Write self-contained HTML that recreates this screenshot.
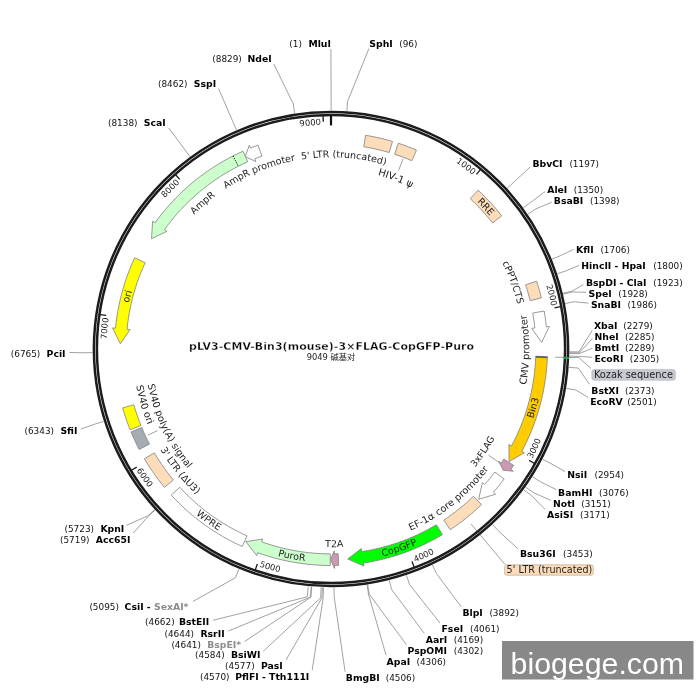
<!DOCTYPE html>
<html lang="zh"><head><meta charset="utf-8"><title>pLV3-CMV-Bin3(mouse)-3×FLAG-CopGFP-Puro</title><style>
html,body{margin:0;padding:0;background:#fff;}
body{width:700px;height:700px;overflow:hidden;}
svg{display:block;}
text{font-family:"DejaVu Sans","Liberation Sans",sans-serif;fill:#000;}
.en{font-weight:bold;font-size:9.3px;}
.en.g{fill:#8c8c8c;}
.nu{font-size:8.9px;fill:#111;}
.fl{fill:#222;}
.tk{fill:#222;}
.ti{font-weight:bold;font-size:10.9px;fill:#000;stroke:#fff;stroke-width:0.3px;}
.st{font-size:8.3px;font-family:"DejaVu Sans","Noto Sans CJK SC",sans-serif;fill:#222;}
.wm{font-family:"Liberation Sans",sans-serif;font-size:30.3px;fill:#fff;}
</style></head><body>
<svg width="700" height="700" viewBox="0 0 700 700">
<rect width="700" height="700" fill="#fff"/>
<text x="369.3" y="46.55" class="en">SphI</text>
<text x="399.2" y="46.55" class="nu">(96)</text>
<polyline points="346.89,111.03 347.52,101.55 368.9,48.6" fill="none" stroke="#8a8a8a" stroke-width="0.8"/>
<text x="532.4" y="167.05" class="en">BbvCI</text>
<text x="569.4" y="167.05" class="nu">(1197)</text>
<polyline points="507.18,188.24 514.2,181.84 530,167.1" fill="none" stroke="#8a8a8a" stroke-width="0.8"/>
<text x="547.2" y="193.35" class="en">AleI</text>
<text x="573.7" y="193.35" class="nu">(1350)</text>
<polyline points="523.23,207.83 530.89,202.21 545.2,191.5" fill="none" stroke="#8a8a8a" stroke-width="0.8"/>
<text x="553.8" y="203.85" class="en">BsaBI</text>
<text x="590" y="203.85" class="nu">(1398)</text>
<polyline points="527.83,214.31 535.67,208.95 551.8,202.2" fill="none" stroke="#8a8a8a" stroke-width="0.8"/>
<text x="576.1" y="252.65" class="en">KflI</text>
<text x="600.4" y="252.65" class="nu">(1706)</text>
<polyline points="551.93,259.16 560.73,255.58 573.6,249.4" fill="none" stroke="#8a8a8a" stroke-width="0.8"/>
<text x="581.3" y="268.65" class="en">HincII - HpaI</text>
<text x="653.2" y="268.65" class="nu">(1800)</text>
<polyline points="557.32,273.76 566.34,270.76 578.9,265.4" fill="none" stroke="#8a8a8a" stroke-width="0.8"/>
<text x="585.9" y="286.25" class="en">BspDI - ClaI</text>
<text x="653.2" y="286.25" class="nu">(1923)</text>
<polyline points="562.91,293.34 572.15,291.12 583.4,284.6" fill="none" stroke="#8a8a8a" stroke-width="0.8"/>
<text x="588.6" y="297.15" class="en">SpeI</text>
<text x="618.3" y="297.15" class="nu">(1928)</text>
<polyline points="563.11,294.14 572.35,291.96 586,292.3" fill="none" stroke="#8a8a8a" stroke-width="0.8"/>
<text x="590.9" y="307.75" class="en">SnaBI</text>
<text x="627.4" y="307.75" class="nu">(1986)</text>
<polyline points="565.13,303.53 574.45,301.72 588.5,303.2" fill="none" stroke="#8a8a8a" stroke-width="0.8"/>
<text x="593.9" y="329.35" class="en">XbaI</text>
<text x="623.3" y="329.35" class="nu">(2279)</text>
<polyline points="569.48,351.77 578.98,351.88 592.2,330.4" fill="none" stroke="#8a8a8a" stroke-width="0.8"/>
<text x="594.5" y="340.05" class="en">NheI</text>
<text x="625" y="340.05" class="nu">(2285)</text>
<polyline points="569.47,352.77 578.97,352.92 592.5,338.5" fill="none" stroke="#8a8a8a" stroke-width="0.8"/>
<text x="594.5" y="350.75" class="en">BmtI</text>
<text x="625" y="350.75" class="nu">(2289)</text>
<polyline points="569.46,353.43 578.96,353.61 592.3,348.3" fill="none" stroke="#8a8a8a" stroke-width="0.8"/>
<text x="594.5" y="361.85" class="en">EcoRI</text>
<text x="629.8" y="361.85" class="nu">(2305)</text>
<polyline points="569.39,356.08 578.89,356.36 592.3,357.3" fill="none" stroke="#8a8a8a" stroke-width="0.8"/>
<text x="591.3" y="394.05" class="en">BstXI</text>
<text x="625" y="394.05" class="nu">(2373)</text>
<polyline points="568.8,367.32 578.27,368.05 589.5,384.3" fill="none" stroke="#8a8a8a" stroke-width="0.8"/>
<text x="590.2" y="404.75" class="en">EcoRV</text>
<text x="627.2" y="404.75" class="nu">(2501)</text>
<polyline points="566.23,388.36 575.6,389.92 588.1,397.3" fill="none" stroke="#8a8a8a" stroke-width="0.8"/>
<text x="567.2" y="477.75" class="en">NsiI</text>
<text x="594.5" y="477.75" class="nu">(2954)</text>
<polyline points="542.51,459.2 550.94,463.59 565,471.5" fill="none" stroke="#8a8a8a" stroke-width="0.8"/>
<text x="558.1" y="495.95" class="en">BamHI</text>
<text x="599.1" y="495.95" class="nu">(3076)</text>
<polyline points="532.43,476.7 540.45,481.79 556.3,489.6" fill="none" stroke="#8a8a8a" stroke-width="0.8"/>
<text x="553" y="506.75" class="en">NotI</text>
<text x="581.3" y="506.75" class="nu">(3151)</text>
<polyline points="525.51,487.01 533.26,492.51 550.8,500.4" fill="none" stroke="#8a8a8a" stroke-width="0.8"/>
<text x="547.1" y="517.75" class="en">AsiSI</text>
<text x="580.1" y="517.75" class="nu">(3171)</text>
<polyline points="523.58,489.7 531.25,495.31 545.1,509.4" fill="none" stroke="#8a8a8a" stroke-width="0.8"/>
<text x="520" y="557.25" class="en">Bsu36I</text>
<text x="563.1" y="557.25" class="nu">(3453)</text>
<polyline points="492.52,524.48 498.95,531.47 517.8,548.6" fill="none" stroke="#8a8a8a" stroke-width="0.8"/>
<text x="462.4" y="616.15" class="en">BlpI</text>
<text x="489.4" y="616.15" class="nu">(3892)</text>
<polyline points="432.41,564.87 436.45,573.47 461.2,606.8" fill="none" stroke="#8a8a8a" stroke-width="0.8"/>
<text x="441.5" y="632.45" class="en">FseI</text>
<text x="470" y="632.45" class="nu">(4061)</text>
<polyline points="406.44,575.25 409.44,584.27 440,623.1" fill="none" stroke="#8a8a8a" stroke-width="0.8"/>
<text x="425.8" y="642.75" class="en">AarI</text>
<text x="453.7" y="642.75" class="nu">(4169)</text>
<polyline points="389.28,580.27 391.6,589.48 424.3,633.4" fill="none" stroke="#8a8a8a" stroke-width="0.8"/>
<text x="407.5" y="653.85" class="en">PspOMI</text>
<text x="453.7" y="653.85" class="nu">(4302)</text>
<polyline points="367.7,584.66 369.16,594.05 406.3,644.5" fill="none" stroke="#8a8a8a" stroke-width="0.8"/>
<text x="386.6" y="664.75" class="en">ApaI</text>
<text x="416.5" y="664.75" class="nu">(4306)</text>
<polyline points="367.05,584.76 368.48,594.15 386.1,655.4" fill="none" stroke="#8a8a8a" stroke-width="0.8"/>
<text x="345.8" y="681.05" class="en">BmgBI</text>
<text x="385.7" y="681.05" class="nu">(4506)</text>
<polyline points="334.06,587.48 334.19,596.98 345.1,671.6" fill="none" stroke="#8a8a8a" stroke-width="0.8"/>
<text x="289.3" y="46.55" class="nu">(1)</text>
<text x="308.4" y="46.55" class="en">MluI</text>
<polyline points="331.17,110.5 331.17,109 330.9,49" fill="none" stroke="#8a8a8a" stroke-width="0.8"/>
<text x="212.3" y="62.45" class="nu">(8829)</text>
<text x="247.5" y="62.45" class="en">NdeI</text>
<polyline points="294.71,113.28 293.26,103.89 273.8,64" fill="none" stroke="#8a8a8a" stroke-width="0.8"/>
<text x="158" y="86.75" class="nu">(8462)</text>
<text x="193.8" y="86.75" class="en">SspI</text>
<polyline points="236.46,130.04 232.69,121.32 218.6,88.6" fill="none" stroke="#8a8a8a" stroke-width="0.8"/>
<text x="108" y="126.15" class="nu">(8138)</text>
<text x="143.8" y="126.15" class="en">ScaI</text>
<polyline points="190,156.64 184.38,148.98 168.6,127.9" fill="none" stroke="#8a8a8a" stroke-width="0.8"/>
<text x="10.8" y="357.05" class="nu">(6765)</text>
<text x="46.6" y="357.05" class="en">PciI</text>
<polyline points="92.53,352.6 83.03,352.75 69.5,352.5" fill="none" stroke="#8a8a8a" stroke-width="0.8"/>
<text x="24.5" y="433.85" class="nu">(6343)</text>
<text x="60.4" y="433.85" class="en">SfiI</text>
<polyline points="103.73,421.33 94.68,424.21 80.9,429" fill="none" stroke="#8a8a8a" stroke-width="0.8"/>
<text x="64.5" y="531.85" class="nu">(5723)</text>
<text x="100.4" y="531.85" class="en">KpnI</text>
<polyline points="154.65,509.57 147.63,515.97 126.4,525.3" fill="none" stroke="#8a8a8a" stroke-width="0.8"/>
<text x="60" y="542.85" class="nu">(5719)</text>
<text x="95.8" y="542.85" class="en">Acc65I</text>
<polyline points="155.1,510.06 148.09,516.48 133.3,533" fill="none" stroke="#8a8a8a" stroke-width="0.8"/>
<text x="89.4" y="610.45" class="nu">(5095)</text>
<text x="124.6" y="610.45" class="en">CsiI - <tspan fill="#8c8c8c">SexAI*</tspan></text>
<polyline points="238.98,569.03 235.31,577.8 193,601.4" fill="none" stroke="#8a8a8a" stroke-width="0.8"/>
<text x="145.1" y="625.35" class="nu">(4662)</text>
<text x="178.9" y="625.35" class="en">BstEII</text>
<polyline points="308.26,586.41 307.26,596.87 212.9,620.3" fill="none" stroke="#8a8a8a" stroke-width="0.8"/>
<text x="164.5" y="636.75" class="nu">(4644)</text>
<text x="200.4" y="636.75" class="en">RsrII</text>
<polyline points="311.23,586.68 310.36,597.14 228.4,631" fill="none" stroke="#8a8a8a" stroke-width="0.8"/>
<text x="171.4" y="647.55" class="nu">(4641)</text>
<text x="207.2" y="647.55" class="en" fill="#8c8c8c" style="fill:#8c8c8c">BspEI*</text>
<polyline points="311.73,586.72 310.88,597.19 244.5,641.6" fill="none" stroke="#8a8a8a" stroke-width="0.8"/>
<text x="195.1" y="658.15" class="nu">(4584)</text>
<text x="230.9" y="658.15" class="en">BsiWI</text>
<polyline points="321.15,587.3 320.72,597.79 263.2,651.3" fill="none" stroke="#8a8a8a" stroke-width="0.8"/>
<text x="225.1" y="669.05" class="nu">(4577)</text>
<text x="260.9" y="669.05" class="en">PasI</text>
<polyline points="322.31,587.34 321.93,597.83 286,660" fill="none" stroke="#8a8a8a" stroke-width="0.8"/>
<text x="200" y="679.55" class="nu">(4570)</text>
<text x="235.2" y="679.55" class="en">PflFI - Tth111I</text>
<polyline points="323.47,587.38 323.13,597.88 312.2,670.3" fill="none" stroke="#8a8a8a" stroke-width="0.8"/>
<line x1="471.1" y1="524.1" x2="505" y2="564.5" stroke="#8a8a8a" stroke-width="0.8"/>
<polyline points="555,357.2 578.9,357.6 591,368.5" fill="none" stroke="#8a8a8a" stroke-width="0.8"/>
<circle cx="331" cy="349" r="237.1" fill="none" stroke="#1c1c1c" stroke-width="2.5"/>
<circle cx="331" cy="349" r="234.1" fill="none" stroke="#1c1c1c" stroke-width="2.5"/>
<path d="M567.97 356.86 A237.1 237.1 0 0 1 567.89 359" fill="none" stroke="#18a03c" stroke-width="2.5"/>
<path d="M564.97 356.76 A234.1 234.1 0 0 1 564.89 358.87" fill="none" stroke="#18a03c" stroke-width="2.5"/>
<line x1="480.41" y1="169.56" x2="476.45" y2="174.33" stroke="#1a1a1a" stroke-width="1.3"/>
<path id="p1" d="M317.25 124.89 A224.53 224.53 0 0 1 549.32 296.54" fill="none"/>
<text class="tk" font-size="8.4"><textPath href="#p1" startOffset="50%" text-anchor="middle">1000</textPath></text>
<line x1="560.64" y1="306.72" x2="554.54" y2="307.84" stroke="#1a1a1a" stroke-width="1.3"/>
<path id="p2" d="M463.84 167.98 A224.53 224.53 0 0 1 532.34 448.39" fill="none"/>
<text class="tk" font-size="8.4"><textPath href="#p2" startOffset="50%" text-anchor="middle">2000</textPath></text>
<line x1="534.53" y1="463.45" x2="529.12" y2="460.41" stroke="#1a1a1a" stroke-width="1.3"/>
<path id="p3" d="M424.02 558.33 A229.07 229.07 0 0 0 553.3 293.74" fill="none"/>
<text class="tk" font-size="8.4"><textPath href="#p3" startOffset="50%" text-anchor="middle">3000</textPath></text>
<line x1="414.17" y1="567.19" x2="411.96" y2="561.39" stroke="#1a1a1a" stroke-width="1.3"/>
<path id="p4" d="M268.54 569.39 A229.07 229.07 0 0 0 537.19 448.78" fill="none"/>
<text class="tk" font-size="8.4"><textPath href="#p4" startOffset="50%" text-anchor="middle">4000</textPath></text>
<line x1="255.3" y1="569.89" x2="257.31" y2="564.02" stroke="#1a1a1a" stroke-width="1.3"/>
<path id="p5" d="M141.98 478.39 A229.07 229.07 0 0 0 425.6 557.62" fill="none"/>
<text class="tk" font-size="8.4"><textPath href="#p5" startOffset="50%" text-anchor="middle">5000</textPath></text>
<line x1="131.48" y1="470.31" x2="136.78" y2="467.09" stroke="#1a1a1a" stroke-width="1.3"/>
<path id="p6" d="M102.95 327.48 A229.07 229.07 0 0 0 270.21 569.85" fill="none"/>
<text class="tk" font-size="8.4"><textPath href="#p6" startOffset="50%" text-anchor="middle">6000</textPath></text>
<line x1="100.06" y1="314.55" x2="106.19" y2="315.47" stroke="#1a1a1a" stroke-width="1.3"/>
<path id="p7" d="M146.65 477.18 A224.53 224.53 0 0 1 172.76 189.71" fill="none"/>
<text class="tk" font-size="8.4"><textPath href="#p7" startOffset="50%" text-anchor="middle">7000</textPath></text>
<line x1="175.57" y1="174.75" x2="179.7" y2="179.38" stroke="#1a1a1a" stroke-width="1.3"/>
<path id="p8" d="M107.31 329.53 A224.53 224.53 0 0 1 311.33 125.33" fill="none"/>
<text class="tk" font-size="8.4"><textPath href="#p8" startOffset="50%" text-anchor="middle">8000</textPath></text>
<line x1="323.06" y1="115.64" x2="323.27" y2="121.83" stroke="#1a1a1a" stroke-width="1.3"/>
<path id="p9" d="M171.56 190.91 A224.53 224.53 0 0 1 459.01 164.53" fill="none"/>
<text class="tk" font-size="8.4"><textPath href="#p9" startOffset="50%" text-anchor="middle">9000</textPath></text>
<line x1="331" y1="115.5" x2="331" y2="125.4" stroke="#111" stroke-width="2.2"/>
<path d="M365.61 135.28 L371.05 136.24 L376.46 137.33 L381.83 138.55 L387.18 139.92 L392.49 141.42 L389.19 152.54 L384.17 151.12 L379.11 149.83 L374.02 148.67 L368.9 147.64 L363.76 146.74Z" fill="#fddcb9" stroke="#808080" stroke-width="0.8" stroke-linejoin="miter"/>
<path d="M398.26 143.21 L402.87 144.78 L407.44 146.44 L411.97 148.21 L416.46 150.08 L411.88 160.74 L407.63 158.97 L403.34 157.3 L399.02 155.72 L394.66 154.24Z" fill="#fddcb9" stroke="#808080" stroke-width="0.8" stroke-linejoin="miter"/>
<path d="M478.1 190.15 L481.72 193.58 L485.27 197.1 L488.73 200.7 L492.11 204.37 L495.4 208.13 L498.6 211.96 L501.72 215.86 L492.57 222.99 L489.62 219.3 L486.59 215.68 L483.48 212.12 L480.28 208.64 L477 205.24 L473.65 201.91 L470.22 198.66Z" fill="#fddcb9" stroke="#808080" stroke-width="0.8" stroke-linejoin="miter"/>
<path d="M536.61 281.2 L537.93 285.34 L539.17 289.51 L540.32 293.7 L541.39 297.91 L530.11 300.65 L529.1 296.66 L528.01 292.69 L526.84 288.75 L525.59 284.83Z" fill="#fddcb9" stroke="#808080" stroke-width="0.8" stroke-linejoin="miter"/>
<path d="M544.14 311.03 L545.01 316.28 L545.75 321.54 L546.36 326.82 L549.35 326.52 L541.6 342.38 L531.84 328.32 L534.82 328.01 L534.25 323.01 L533.55 318.03 L532.72 313.07Z" fill="#ffffff" stroke="#808080" stroke-width="0.8" stroke-linejoin="miter"/>
<path d="M547.33 357.69 L547.04 363.12 L546.62 368.55 L546.06 373.96 L545.36 379.36 L544.53 384.73 L543.57 390.09 L542.47 395.42 L541.23 400.72 L539.87 405.98 L538.37 411.22 L536.74 416.41 L534.98 421.56 L533.09 426.66 L531.08 431.71 L528.93 436.72 L526.67 441.66 L524.28 446.55 L521.76 451.38 L524.41 452.8 L509.1 461.59 L508.9 444.47 L511.54 445.89 L513.92 441.32 L516.18 436.7 L518.33 432.02 L520.36 427.28 L522.26 422.5 L524.05 417.67 L525.72 412.8 L527.26 407.88 L528.68 402.93 L529.97 397.95 L531.14 392.93 L532.18 387.89 L533.09 382.82 L533.88 377.73 L534.53 372.62 L535.06 367.5 L535.46 362.37 L535.73 357.22Z" fill="#ffcc00" stroke="#808080" stroke-width="0.8" stroke-linejoin="miter"/>
<path d="M513.59 465.33 L510.86 469.52 L513.35 471.19 L503.28 470.3 L498.73 461.39 L501.22 463.06 L503.81 459.09Z" fill="#cc99b2" stroke="#808080" stroke-width="0.8" stroke-linejoin="miter"/>
<path d="M504.13 478.99 L501.53 482.38 L498.87 485.72 L496.14 489 L493.35 492.23 L495.6 494.22 L478.68 499.28 L482.4 482.57 L484.65 484.56 L487.29 481.5 L489.88 478.39 L492.4 475.23 L494.86 472.03Z" fill="#ffffff" stroke="#808080" stroke-width="0.8" stroke-linejoin="miter"/>
<path d="M481.53 504.61 L477.87 508.06 L474.14 511.43 L470.33 514.71 L466.44 517.9 L462.48 521.01 L458.45 524.01 L454.35 526.93 L450.18 529.74 L443.79 520.06 L447.74 517.39 L451.62 514.64 L455.43 511.79 L459.18 508.85 L462.86 505.83 L466.47 502.73 L470 499.54 L473.46 496.27Z" fill="#fddcb9" stroke="#808080" stroke-width="0.8" stroke-linejoin="miter"/>
<path d="M442.41 534.64 L437.55 537.47 L432.61 540.17 L427.61 542.75 L422.54 545.2 L417.41 547.51 L412.22 549.69 L406.98 551.73 L401.68 553.64 L396.34 555.41 L390.95 557.03 L385.52 558.52 L380.06 559.87 L374.56 561.07 L369.04 562.13 L363.48 563.05 L363.93 566.02 L347.71 559.04 L361.29 548.61 L361.74 551.58 L367 550.71 L372.23 549.71 L377.43 548.57 L382.6 547.3 L387.74 545.89 L392.84 544.35 L397.89 542.67 L402.91 540.87 L407.87 538.93 L412.78 536.87 L417.63 534.68 L422.43 532.37 L427.17 529.93 L431.84 527.37 L436.44 524.69Z" fill="#00ff00" stroke="#808080" stroke-width="0.8" stroke-linejoin="miter"/>
<path d="M338.56 565.37 L334.5 565.47 L334.54 568.47 L330.45 559.7 L334.26 550.87 L334.31 553.87 L338.15 553.78Z" fill="#cc99b2" stroke="#808080" stroke-width="0.8" stroke-linejoin="miter"/>
<path d="M330.24 565.5 L324.96 565.42 L319.68 565.2 L314.41 564.86 L309.15 564.39 L303.9 563.8 L298.67 563.07 L293.46 562.22 L288.27 561.24 L283.1 560.14 L277.97 558.9 L272.86 557.55 L267.79 556.07 L262.76 554.46 L257.77 552.74 L256.75 555.56 L245.8 541.71 L262.7 539 L261.69 541.82 L266.41 543.46 L271.18 544.97 L275.98 546.37 L280.81 547.66 L285.67 548.82 L290.56 549.87 L295.47 550.8 L300.4 551.6 L305.36 552.29 L310.32 552.85 L315.3 553.3 L320.29 553.62 L325.29 553.82 L330.28 553.9Z" fill="#ccffcc" stroke="#808080" stroke-width="0.8" stroke-linejoin="miter"/>
<path d="M242.25 546.47 L237.25 544.15 L232.31 541.7 L227.43 539.12 L222.62 536.42 L217.88 533.6 L213.21 530.65 L208.62 527.59 L204.11 524.42 L199.68 521.13 L195.34 517.73 L191.09 514.22 L186.92 510.6 L182.85 506.87 L178.88 503.05 L175 499.12 L171.23 495.1 L179.79 487.27 L183.36 491.08 L187.03 494.79 L190.79 498.41 L194.64 501.94 L198.58 505.36 L202.61 508.69 L206.72 511.91 L210.91 515.02 L215.18 518.03 L219.52 520.92 L223.94 523.71 L228.43 526.38 L232.98 528.93 L237.6 531.37 L242.27 533.69 L247.01 535.89Z" fill="#ffffff" stroke="#808080" stroke-width="0.8" stroke-linejoin="miter"/>
<path d="M164.47 487.35 L161.33 483.47 L158.27 479.53 L155.31 475.51 L152.44 471.42 L149.66 467.27 L146.98 463.06 L144.4 458.78 L154.4 452.9 L156.84 456.95 L159.38 460.93 L162 464.86 L164.72 468.73 L167.53 472.53 L170.42 476.27 L173.4 479.94Z" fill="#fddcb9" stroke="#808080" stroke-width="0.8" stroke-linejoin="miter"/>
<path d="M139.22 449.47 L137.03 445.16 L134.93 440.8 L132.93 436.4 L131.02 431.96 L141.74 427.51 L143.54 431.72 L145.43 435.89 L147.42 440.01 L149.5 444.09Z" fill="#a6acb3" stroke="#808080" stroke-width="0.8" stroke-linejoin="miter"/>
<path d="M130.15 429.82 L128.47 425.51 L126.88 421.17 L125.39 416.79 L123.99 412.39 L122.68 407.95 L133.84 404.79 L135.08 408.99 L136.4 413.16 L137.82 417.3 L139.32 421.41 L140.91 425.49Z" fill="#ffff00" stroke="#808080" stroke-width="0.8" stroke-linejoin="miter"/>
<path d="M134.62 257.85 L132.32 262.99 L130.15 268.18 L128.11 273.44 L126.22 278.74 L124.46 284.09 L122.84 289.49 L121.36 294.92 L120.03 300.4 L118.83 305.9 L117.78 311.44 L116.88 317 L116.12 322.58 L115.5 328.18 L112.52 327.89 L120.37 343.71 L130.04 329.58 L127.05 329.29 L127.63 323.99 L128.35 318.71 L129.21 313.45 L130.2 308.21 L131.33 303 L132.59 297.82 L133.99 292.68 L135.53 287.57 L137.19 282.51 L138.99 277.49 L140.91 272.51 L142.97 267.59 L145.15 262.73Z" fill="#ffff00" stroke="#808080" stroke-width="0.8" stroke-linejoin="miter"/>
<path d="M243.01 151.19 L238.05 153.47 L233.14 155.88 L228.3 158.41 L223.53 161.06 L218.82 163.83 L214.18 166.72 L209.62 169.73 L205.14 172.85 L200.73 176.08 L196.41 179.42 L192.17 182.87 L188.03 186.42 L183.97 190.08 L180.01 193.84 L176.14 197.7 L172.37 201.66 L168.71 205.71 L165.14 209.85 L161.68 214.08 L158.33 218.39 L155.09 222.79 L152.66 221.04 L151.5 238.66 L166.96 231.3 L164.52 229.55 L167.59 225.39 L170.76 221.31 L174.03 217.3 L177.4 213.38 L180.87 209.55 L184.44 205.81 L188.1 202.16 L191.85 198.6 L195.69 195.13 L199.61 191.77 L203.62 188.5 L207.71 185.34 L211.88 182.28 L216.12 179.33 L220.44 176.49 L224.83 173.75 L229.28 171.13 L233.8 168.62 L238.39 166.22 L243.03 163.95 L247.73 161.79Z" fill="#ccffcc" stroke="#808080" stroke-width="0.8" stroke-linejoin="miter"/>
<path d="M258.02 145.17 L254.19 146.58 L250.39 148.07 L249.27 145.28 L245.23 156.55 L255.82 161.62 L254.71 158.83 L258.31 157.43 L261.93 156.09Z" fill="#ffffff" stroke="#808080" stroke-width="0.8" stroke-linejoin="miter"/>
<line x1="233.05" y1="155.93" x2="238.3" y2="166.27" stroke="#000" stroke-width="1" stroke-dasharray="1.2 1.2"/>
<line x1="547.64" y1="357.32" x2="535.45" y2="356.85" stroke="#666" stroke-width="2"/>
<line x1="403.1" y1="158.7" x2="398.67" y2="170.39" stroke="#8a8a8a" stroke-width="0.8"/>
<line x1="499.29" y1="462.52" x2="488.52" y2="455.25" stroke="#8a8a8a" stroke-width="0.8"/>
<line x1="147.77" y1="435.22" x2="157.27" y2="430.75" stroke="#8a8a8a" stroke-width="0.8"/>
<rect x="504.6" y="564.8" width="88.7" height="10.4" rx="2" fill="#fddcb9" stroke="#b0a090" stroke-width="0.6"/>
<text x="506.6" y="573.2" class="fl" font-size="9.6">5' LTR (truncated)</text>
<rect x="591.8" y="369.4" width="83.6" height="10.9" rx="2.5" fill="#c6c9d1" stroke="#a8abb3" stroke-width="0.5"/>
<text x="593.9" y="377.9" class="fl" font-size="9.8">Kozak sequence</text>
<path id="p10" d="M217.86 194.21 A191.73 191.73 0 0 1 463.79 210.7" fill="none"/>
<text class="fl" font-size="9.5"><textPath href="#p10" startOffset="50%" text-anchor="middle">5' LTR (truncated)</textPath></text>
<path id="p11" d="M271.72 179.06 A179.99 179.99 0 0 1 488.07 261.11" fill="none"/>
<text class="fl" font-size="9.9"><textPath href="#p11" startOffset="50%" text-anchor="middle">HIV-1 ψ</textPath></text>
<path id="p12" d="M357.69 143.49 A207.23 207.23 0 0 1 538.02 339.6" fill="none"/>
<text class="fl" font-size="9.5"><textPath href="#p12" startOffset="50%" text-anchor="middle">RRE</textPath></text>
<path id="p13" d="M426.58 182.79 A191.73 191.73 0 0 1 511.28 414.26" fill="none"/>
<text class="fl" font-size="9.5"><textPath href="#p13" startOffset="50%" text-anchor="middle">cPPT/CTS</textPath></text>
<path id="p14" d="M482.34 477.1 A198.28 198.28 0 0 0 483.43 222.2" fill="none"/>
<text class="fl" font-size="9.8"><textPath href="#p14" startOffset="50%" text-anchor="middle">CMV promoter</textPath></text>
<path id="p15" d="M449.86 526.55 A213.67 213.67 0 0 0 526.5 262.78" fill="none"/>
<text class="fl" font-size="9.5"><textPath href="#p15" startOffset="50%" text-anchor="middle">Bin3</textPath></text>
<path id="p16" d="M382.39 528.23 A186.46 186.46 0 0 0 516.44 329.51" fill="none"/>
<text class="fl" font-size="9.2"><textPath href="#p16" startOffset="50%" text-anchor="middle">3xFLAG</textPath></text>
<path id="p17" d="M324.77 547.16 A198.26 198.26 0 0 0 525.07 389.54" fill="none"/>
<text class="fl" font-size="9.75"><textPath href="#p17" startOffset="50%" text-anchor="middle">EF-1α core promoter</textPath></text>
<path id="p18" d="M254.08 548.34 A213.67 213.67 0 0 0 513.96 459.37" fill="none"/>
<text class="fl" font-size="9.5"><textPath href="#p18" startOffset="50%" text-anchor="middle">CopGFP</textPath></text>
<path id="p19" d="M206.15 502.9 A198.17 198.17 0 0 0 460.88 498.67" fill="none"/>
<text class="fl" font-size="9.5"><textPath href="#p19" startOffset="50%" text-anchor="middle">T2A</textPath></text>
<path id="p20" d="M165.66 484.33 A213.67 213.67 0 0 0 435.57 535.33" fill="none"/>
<text class="fl" font-size="9.5"><textPath href="#p20" startOffset="50%" text-anchor="middle">PuroR</textPath></text>
<path id="p21" d="M124.14 402.5 A213.67 213.67 0 0 0 347.76 562.01" fill="none"/>
<text class="fl" font-size="9.5"><textPath href="#p21" startOffset="50%" text-anchor="middle">WPRE</textPath></text>
<path id="p22" d="M132.87 345.2 A198.17 198.17 0 0 0 292.85 543.46" fill="none"/>
<text class="fl" font-size="9.5"><textPath href="#p22" startOffset="50%" text-anchor="middle">3' LTR (ΔU3)</textPath></text>
<path id="p23" d="M150.38 302.04 A186.62 186.62 0 0 0 253.39 518.72" fill="none"/>
<text class="fl" font-size="9.65"><textPath href="#p23" startOffset="50%" text-anchor="middle">SV40 poly(A) signal</textPath></text>
<path id="p24" d="M149.06 270.27 A198.24 198.24 0 0 0 221.87 514.5" fill="none"/>
<text class="fl" font-size="9.7"><textPath href="#p24" startOffset="50%" text-anchor="middle">SV40 ori</textPath></text>
<path id="p25" d="M143.95 438.22 A207.23 207.23 0 0 1 210.66 180.29" fill="none"/>
<text class="fl" font-size="9.5"><textPath href="#p25" startOffset="50%" text-anchor="middle">ori</textPath></text>
<path id="p26" d="M141.47 320 A191.73 191.73 0 0 1 326.65 157.32" fill="none"/>
<text class="fl" font-size="9.5"><textPath href="#p26" startOffset="50%" text-anchor="middle">AmpR</textPath></text>
<path id="p27" d="M161.71 258.99 A191.73 191.73 0 0 1 390.25 166.65" fill="none"/>
<text class="fl" font-size="9.5"><textPath href="#p27" startOffset="50%" text-anchor="middle">AmpR promoter</textPath></text>
<text x="331.5" y="350" class="ti" text-anchor="middle" textLength="285" lengthAdjust="spacing">pLV3-CMV-Bin3(mouse)-3×FLAG-CopGFP-Puro</text>
<text x="331" y="360.3" class="st" text-anchor="middle">9049 碱基对</text>
<rect x="502" y="641" width="191.5" height="38.5" fill="#888888"/>
<text x="510.6" y="674" class="wm">biogege.com</text>
</svg>
</body></html>
